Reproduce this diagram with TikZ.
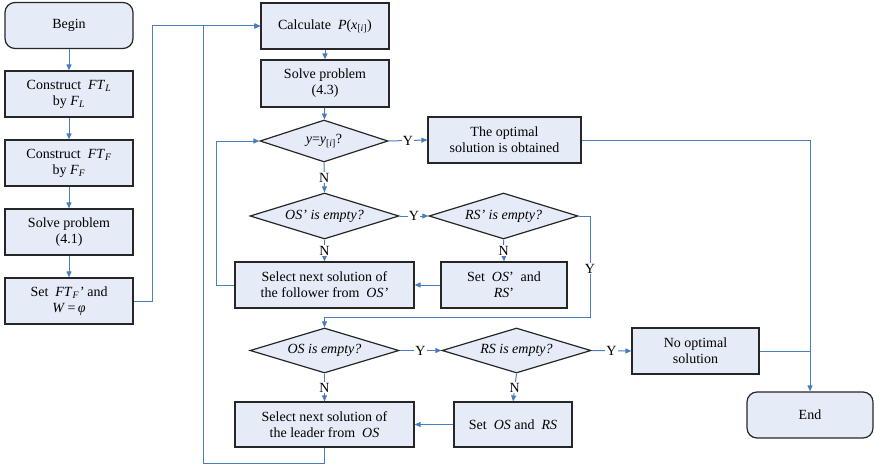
\documentclass[tikz,border=0pt]{standalone}
\usepackage{fontspec}
\setmainfont{Liberation Serif}
\usepackage{tikz}
\usetikzlibrary{shapes.geometric,arrows.meta}
\definecolor{boxfill}{HTML}{E6ECF7}
\definecolor{flowblue}{HTML}{4A7EBB}

\begin{document}
\begin{tikzpicture}[x=1pt,y=-1pt,font=\fontsize{14}{16}\selectfont,
  proc/.style={rectangle,draw=black!85,line width=1.2pt,fill=boxfill,align=center,inner sep=2pt,minimum width=128pt,minimum height=46pt},
  term/.style={proc,rounded corners=10pt},
  dec/.style={diamond,draw=black!85,line width=1.2pt,fill=boxfill,inner sep=0pt,aspect=3.3,minimum width=149pt,minimum height=46pt,font=\fontsize{14}{16}\selectfont\itshape},
  flow/.style={draw=flowblue,line width=1pt,-{Triangle[length=6pt,width=5pt]}},
  line/.style={draw=flowblue,line width=1pt},
  lab/.style={fill=white,inner sep=1pt}]
\useasboundingbox (0,0) rectangle (874,468);

% left column
\node[term] (begin) at (69,25.5) {Begin};
\node[proc] (consL) at (69,94) {Construct \ \textit{FT}\textsubscript{\textit{L}}\\by \textit{F}\textsubscript{\textit{L}}};
\node[proc] (consF) at (69,163) {Construct \ \textit{FT}\textsubscript{\textit{F}}\\by \textit{F}\textsubscript{\textit{F}}};
\node[proc] (solveA) at (69,232) {Solve problem\\(4.1)};
\node[proc] (setW) at (69,301) {Set \ \textit{FT}\textsubscript{\textit{F}}\textit{'} and\\\textit{W}\,=\,\textit{φ}};

% main loop
\node[proc] (calc) at (325,26) {Calculate \ \textit{P}(\textit{x}\textsubscript{[\textit{i}]})};
\node[proc,minimum height=47pt] (solveB) at (325,83.5) {Solve problem\\(4.3)};
\node[dec,minimum width=128pt,minimum height=42pt] (check) at (324,141) {\textit{y}\textup{=}\textit{y}\textsubscript{\textup{[}\textit{i}\textup{]}}\textup{?}};
\node[proc,minimum width=153pt] (opt) at (504.5,140) {The optimal\\solution is obtained};

% follower part
\node[dec] (osp) at (324.5,216) {OS' is empty?};
\node[dec] (rsp) at (503.5,216) {RS' is empty?};
\node[proc,minimum width=179pt] (follow) at (324.5,285) {Select next solution of\\the follower from \ \textit{OS'}};
\node[proc,minimum width=126pt] (setp) at (504,285) {Set \ \textit{OS}' \ and\\\textit{RS}'};

% leader part
\node[dec,minimum height=45pt] (os) at (324.5,350.5) {OS is empty?};
\node[dec,minimum height=45pt] (rs) at (516.5,350.5) {RS is empty?};
\node[proc,minimum width=127pt] (noopt) at (695.5,351) {No optimal\\solution};
\node[proc,minimum width=179pt,minimum height=45pt] (leader) at (324.5,424.5) {Select next solution of\\the leader from \ \textit{OS}};
\node[proc,minimum width=118pt,minimum height=45pt] (setos) at (513,424.5) {Set \ \textit{OS} and \ \textit{RS}};
\node[term,minimum width=126pt] (end) at (810,415) {End};

\coordinate (back) at (203,463);
\coordinate (jy) at (590,317);

% connectors
\draw[flow] (begin) -- (consL);
\draw[flow] (consL) -- (consF);
\draw[flow] (consF) -- (solveA);
\draw[flow] (solveA) -- (setW);
\draw[flow] (setW.east) -- ++(19,0) |- (calc.west);
\draw[flow] (leader.south) |- (back) |- (calc.west);
\draw[flow] (calc) -- (solveB);
\draw[flow] (solveB) -- (check);
\draw[flow] (check.east) -- node[lab] {Y} (opt.west);
\draw[flow] (opt.east) -| (end.north);
\draw[line] (noopt.east) -- (noopt.east -| end.north);
\draw[flow] (check.south) -- node[lab] {N} (osp.north);
\draw[flow] (osp.east) -- node[lab] {Y} (rsp.west);
\draw[flow] (osp.south) -- node[lab] {N} (follow.north);
\draw[flow] (rsp.south) -- node[lab] {N} (setp.north);
\draw[flow] (setp.west) -- (follow.east);
\draw[flow] (follow.west) -- ++(-18,0) |- (check.west);
\draw[flow] (rsp.east) -| node[lab,pos=0.76] {Y} (jy) -| (os.north);
\draw[flow] (os.east) -- node[lab] {Y} (rs.west);
\draw[flow] (rs.east) -- node[lab] {Y} (noopt.west);
\draw[flow] (os.south) -- node[lab] {N} (leader.north);
\draw[flow] (rs.south) -- node[lab] {N} (setos.north);
\draw[flow] (setos.west) -- (leader.east);
\end{tikzpicture}
\end{document}
